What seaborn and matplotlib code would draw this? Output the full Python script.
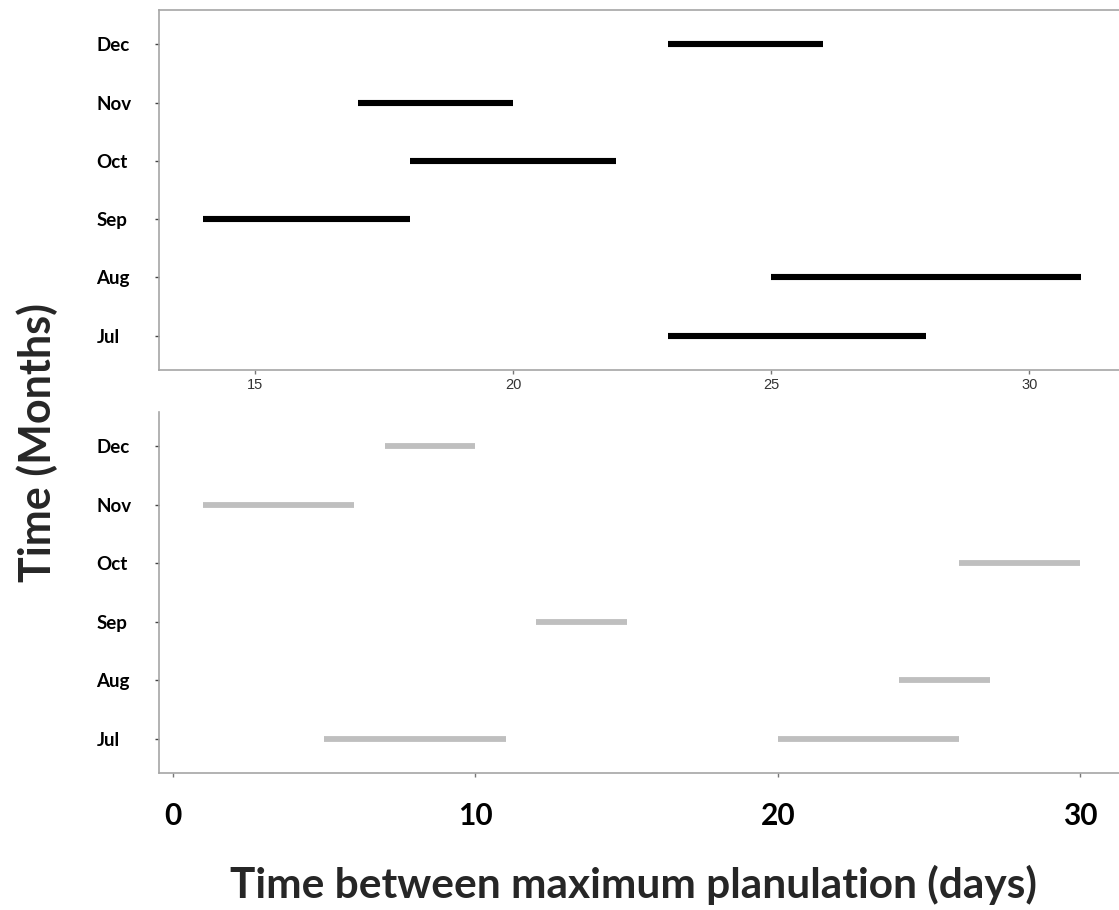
import pandas as pd
import matplotlib
matplotlib.use("Agg")
import matplotlib.pyplot as plt
import seaborn as sns

months = ["Jul", "Aug", "Sep", "Oct", "Nov", "Dec"]

# top panel: one interval per month
top_start = [23, 25, 14, 18, 17, 23]
top_end = [28, 31, 18, 22, 20, 26]

# bottom panel: intervals (Jul has two)
bot_month = ["Jul", "Jul", "Aug", "Sep", "Oct", "Nov", "Dec"]
bot_start = [5, 20, 24, 12, 26, 1, 7]
bot_end = [11, 26, 27, 15, 30, 6, 10]

top_ticks = [15, 20, 25, 30]
bot_ticks = [0, 10, 20, 30]


def segments(month_list, starts, ends):
    rows = []
    for i, (m, s, e) in enumerate(zip(month_list, starts, ends)):
        pos = months.index(m)
        rows.append({"seg": i, "day": s, "row": pos})
        rows.append({"seg": i, "day": e, "row": pos})
    return pd.DataFrame(rows)


df_top = segments(months, top_start, top_end)
df_bot = segments(bot_month, bot_start, bot_end)

sns.set_style("white")
plt.rcParams["font.family"] = ["Lato", "DejaVu Sans"]

fig = plt.figure(figsize=(11.19, 9.10), dpi=100)
W, H = 1119, 910
ax1 = fig.add_axes([159 / W, 1 - 370 / H, (W - 159) / W, 360 / H])
ax2 = fig.add_axes([159 / W, 1 - 773 / H, (W - 159) / W, 361 / H])

sns.lineplot(data=df_top, x="day", y="row", units="seg", estimator=None,
             sort=False, color="black", lw=4.4, legend=False, ax=ax1)
sns.lineplot(data=df_bot, x="day", y="row", units="seg", estimator=None,
             sort=False, color="#bfbfbf", lw=4.2, legend=False, ax=ax2)
for ln in ax1.lines + ax2.lines:
    ln.set_solid_capstyle("butt")

ax1.set_xlim(13.14, 31.74)
ax2.set_xlim(-0.463, 31.28)

for ax in (ax1, ax2):
    ax.set_ylim(-0.59, 5.59)
    ax.set_yticks(range(len(months)))
    ax.set_yticklabels(months, fontsize=13.5, fontweight="bold", color="black")
    for lab in ax.get_yticklabels():
        lab.set_ha("left")
    ax.tick_params(axis="y", length=3, width=1, color="#444444", pad=42, left=True)
    ax.set_xlabel("")
    ax.set_ylabel("")
    for side in ("top", "left", "bottom"):
        ax.spines[side].set_color("#a6a6a6")
        ax.spines[side].set_linewidth(1.2)
    ax.spines["right"].set_visible(False)

ax1.set_xticks(top_ticks)
ax1.set_xticklabels([str(t) for t in top_ticks], fontsize=10.5,
                    family="Liberation Sans", color="#333333")
ax1.tick_params(axis="x", length=3, width=1, color="#777777", pad=3, bottom=True)

ax2.set_xticks(bot_ticks)
ax2.set_xticklabels([str(t) for t in bot_ticks], fontsize=21.5,
                    fontweight="bold", color="black")
ax2.tick_params(axis="x", length=3, width=1, color="#777777", pad=18, bottom=True)
ax2.spines["top"].set_visible(False)

fig.text(634 / W, 1 - 885 / H, "Time between maximum planulation (days)",
         ha="center", va="center", fontsize=30.5, fontweight="bold")
fig.text(37 / W, 1 - 442 / H, "Time (Months)", rotation=90,
         ha="center", va="center", fontsize=31, fontweight="bold")

fig.savefig("out.png", dpi=100)
